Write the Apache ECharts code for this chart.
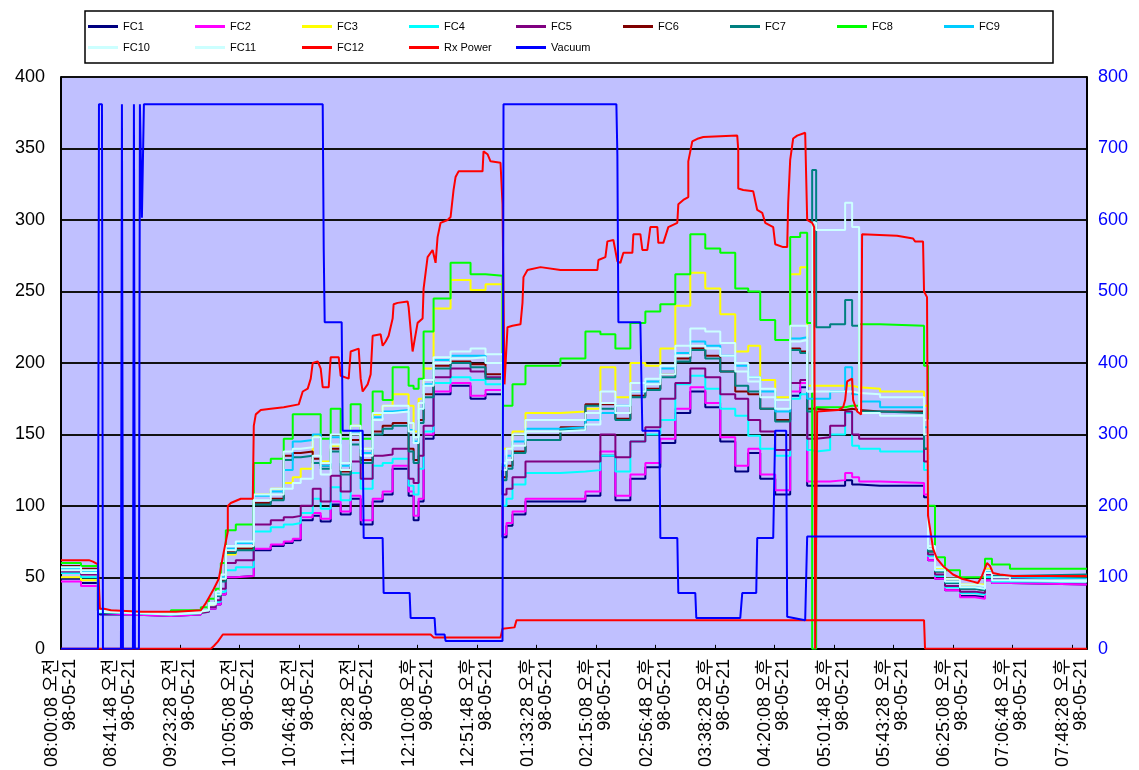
<!DOCTYPE html>
<html>
<head>
<meta charset="utf-8">
<script src="https://cdn.jsdelivr.net/npm/echarts@6/dist/echarts.min.js"></script>
<style>
  html, body { margin: 0; padding: 0; background: #ffffff; }
  #chart { width: 1139px; height: 770px; }
</style>
</head>
<body>
<div id="chart"></div>
<script>
// Category tick labels (one every 41 min 40 s)
const tickTimes = ['08:00:08 오전','08:41:48 오전','09:23:28 오전','10:05:08 오전','10:46:48 오전','11:28:28 오전',
  '12:10:08 오후','12:51:48 오후','01:33:28 오후','02:15:08 오후','02:56:48 오후','03:38:28 오후',
  '04:20:08 오후','05:01:48 오후','05:43:28 오후','06:25:08 오후','07:06:48 오후','07:48:28 오후'];
const tickDate = '98-05-21';
const tickStepMin = 2500 / 60;

// Elapsed minutes since 08:00:08 at which the FC1..FC11 readings change
const elapsedMin = [0,14,25.9,27.3,49,77,98,103.6,108.5,112,115.5,122.5,135.1,147,156.1,162.4,168,176.4,182,189,
  196,203,210,218.4,225.4,232.4,243.6,247.1,250.6,254.1,261.1,273,287,297.5,309.4,312.2,316.4,325.5,350,367.5,
  378,388.5,399,409.5,420,430.5,441,451.5,462,472.5,481.6,490,500.5,511,518,522.9,526.4,529.2,539,549.5,
  554.4,559.3,574,604.8,607.6,612.5,619.5,630,640.5,647.5,652.4,665,718.9];

const fc1 = [49,46,26,24,23,24,26,28,31,38,50,51,69,72,74,76,90,93,89,101,94,105,87,103,108,126,107,90,103,147,
  178,184,175,178,78,86,94,103,103,107,135,104,119,127,144,165,180,169,145,124,137,119,108,177,183,114,114,114,114,118,
  115,114,114,106,62,49,41,37,36,48,46,45,45];
const fc2 = [47,44,25,24,23,24,26,28,31,38,50,51,70,73,75,77,92,95,91,103,96,107,90,105,110,128,110,93,105,150,
  180,186,177,181,80,88,96,105,105,110,138,107,122,130,147,168,183,172,148,128,140,122,111,180,186,117,117,117,118,123,
  120,117,116,108,62,49,41,36,35,48,46,45,45];
const fc3 = [50,48,26,25,24,25,27,31,37,48,66,70,108,112,116,120,126,149,131,142,130,156,140,164,170,178,170,152,175,196,
  238,258,251,255,140,140,152,165,166,168,197,176,200,198,210,240,263,252,234,208,212,188,176,262,267,184,184,184,184,184,
  183,182,180,170,70,56,49,45,45,56,51,49,49];
const fc4 = [53,50,26,25,24,25,26,29,33,40,55,57,82,85,87,88,95,105,98,113,104,123,112,128,130,133,114,108,126,152,
  186,190,188,185,100,105,115,123,124,125,135,124,145,150,160,185,191,182,168,163,149,140,135,175,178,139,138,139,150,165,
  142,140,138,125,65,51,43,39,38,50,47,47,47];
const fc5 = [54,52,26,25,24,25,26,29,34,42,60,62,87,90,92,93,100,112,103,121,110,131,119,135,136,140,119,116,135,156,
  190,196,194,190,108,112,120,131,131,131,150,134,145,155,175,186,196,190,178,175,160,152,139,186,188,147,147,148,156,166,
  150,147,147,131,66,52,44,40,39,52,49,48,48];
const fc6 = [58,56,27,26,25,26,27,32,38,48,68,70,102,105,135,137,138,133,128,140,124,146,132,152,156,158,140,132,160,178,
  198,201,199,192,120,128,138,146,155,171,171,161,177,182,192,203,210,205,194,180,178,168,160,210,208,168,168,167,167,168,
  167,166,166,140,68,54,47,42,41,55,51,51,51];
const fc7 = [57,55,27,25,24,25,27,32,37,47,67,69,101,104,132,134,135,130,126,138,122,143,130,150,154,156,138,130,158,176,
  196,200,197,189,118,126,137,146,153,170,168,160,176,181,190,201,209,203,194,184,180,168,159,209,207,166,335,225,227,244,
  226,166,165,140,68,54,46,42,41,54,51,52,52];
const fc8 = [60,58,27,26,25,27,29,35,42,60,83,87,130,133,147,164,164,164,147,168,147,171,147,180,174,197,184,182,189,222,
  245,270,262,261,170,170,185,198,203,222,220,210,228,236,241,262,290,280,277,252,250,230,216,288,291,228,0,169,169,170,
  170,227,226,198,100,64,55,50,50,63,59,56,56];
const fc9 = [56,54,26,25,24,25,27,32,39,50,70,74,107,110,125,145,146,150,128,148,128,152,137,162,166,167,153,145,168,185,
  202,205,205,200,128,135,145,154,155,160,165,170,180,187,196,207,215,212,205,198,190,180,166,217,218,175,175,175,180,197,
  178,173,169,155,70,55,47,43,42,54,50,49,49];
const fc10 = [57,55,27,26,25,26,27,32,40,52,72,75,108,112,138,140,141,148,130,150,130,156,140,165,170,170,158,148,172,188,
  204,208,210,206,130,140,150,160,160,165,180,170,186,189,198,212,224,222,214,200,190,182,174,226,226,180,298,293,293,312,
  295,165,163,150,72,57,49,45,44,55,50,48,48];
const fc11 = [55,53,26,25,24,25,27,31,38,49,69,72,104,108,112,116,119,135,122,143,125,150,135,160,165,166,152,144,168,184,
  200,203,204,200,125,132,142,152,153,157,172,165,180,185,192,205,212,210,205,194,187,176,168,215,216,180,180,180,180,180,
  179,178,176,160,70,55,47,43,42,53,48,47,47];

// FC12, Rx Power and Vacuum as [elapsed minutes, value]
const fc12 = [[0,62],[19.6,62],[22.4,61],[25.9,59],[27.3,28],[30.1,28],[35,27],[56,26],[80.5,26],[98,27],[101.5,32],
  [104.3,37],[107.1,42],[110.6,49],[114.1,68],[116.9,82],[116.9,100],[119,102],[126,105],[134.4,105],[135.1,156],
  [136.5,164],[140,167],[147,168],[156.1,169],[166.6,171],[169.4,180],[172.9,182],[175,189],[176.4,200],[179.9,201],
  [182,196],[183.4,183],[187.6,183],[189,204],[194.6,204],[196,191],[201.6,189],[203,208],[208.6,210],[210,189],
  [211.4,180],[214.9,185],[217,192],[218.4,219],[224,220],[225.4,212],[227.5,215],[229.6,219],[232.4,231],[233.1,241],
  [235.9,242],[242.9,243],[243.6,239],[246.4,208],[247.1,207],[249.9,228],[253.4,231],[254.1,252],[256.9,274],
  [260.4,279],[262.5,270],[263.9,288],[266,298],[270.9,300],[273,302],[275.1,321],[276.5,330],[278.6,334],[295.4,334],
  [296.1,348],[298.9,346],[301,341],[308,340],[309.4,311],[310.1,247],[310.8,185],[312.2,185],[312.9,225],[316.4,226],
  [322,227],[323.4,242],[324.1,260],[326.9,265],[336,267],[350,265],[375.9,265],[376.6,272],[381.5,274],[382.9,285],
  [387.1,286],[389.9,271],[392,270],[394.1,277],[400.4,277],[401.1,290],[406,290],[407.4,279],[410.9,279],[413,295],
  [417.9,295],[418.6,284],[422.1,284],[425.6,295],[431.9,298],[432.6,311],[436.1,314],[439.6,316],[439.6,341],
  [442.4,355],[446.6,357],[450.1,358],[473.9,359],[474.6,349],[474.6,322],[478.1,321],[485.1,320],[487.9,307],
  [491.4,305],[493.5,298],[499.1,295],[500.5,283],[506.1,281],[508.9,281],[509.6,312],[511,342],[513.1,357],
  [515.9,359],[521.5,361],[522.9,300],[526.4,298],[527.8,295],[528.5,0],[529.2,0],[529.9,166],[544.6,167],[548.1,169],
  [549.5,174],[550.9,187],[554.4,189],[555.1,174],[557.9,166],[560.7,164],[561.4,290],[585.9,289],[586.6,288],
  [597.1,287],[598.5,285],[604.1,285],[604.8,250],[606.9,246],[607.6,93],[610.4,75],[611.1,70],[613.9,63],[618.1,58],
  [625.1,52],[631.4,49],[639.1,47],[642.6,46],[645.4,51],[648.9,60],[651,58],[653.1,53],[658,52],[667.1,51],[718.9,51]];
const rxPower = [[0,0],[105,0],[107.1,2],[109.9,5],[113.4,10],[259,10],[261.1,8],[308,8],[309.4,14],[317.8,15],
  [319.2,20],[604.8,20],[605.5,0],[718.9,0]];
const vacuum = [[0,0],[25.9,0],[26.6,762],[28.7,762],[29.4,0],[42,0],[42.7,762],[43.4,0],[50.4,0],[51.1,762],[51.8,0],
  [54.6,0],[55.3,762],[56,762],[56.7,603],[57.4,603],[58.1,762],[183.4,762],[184.1,560],[184.8,457],[196.7,457],
  [197.4,305],[211.4,305],[212.1,155],[225.4,155],[226.1,78],[244.3,78],[245,43],[261.8,43],[262.5,20],[268.8,20],
  [269.5,11],[309.4,11],[310.1,762],[389.2,762],[389.9,690],[390.6,457],[406,457],[407.4,305],[419.3,305],[420,155],
  [431.9,155],[432.6,78],[444.5,78],[445.2,43],[476,43],[477.4,78],[487.2,78],[487.9,155],[499.1,155],[500.5,305],
  [508.2,305],[508.9,45],[521.5,40],[522.9,157],[718.9,157]];

const seriesNames = ['FC1','FC2','FC3','FC4','FC5','FC6','FC7','FC8','FC9','FC10','FC11','FC12','Rx Power','Vacuum'];
const seriesColors = ['#000080','#ff00ff','#ffff00','#00ffff','#800080','#800000','#008080','#00ff00','#00ccff',
  '#ccffff','#ccffff','#ff0000','#ff0000','#0000ff'];
const bundle = [fc1, fc2, fc3, fc4, fc5, fc6, fc7, fc8, fc9, fc10, fc11];

const FONT = "'Liberation Sans', 'Noto Sans CJK KR', sans-serif";

const series = [];
bundle.forEach((vals, i) => {
  series.push({
    name: seriesNames[i], type: 'line', step: 'end', showSymbol: false,
    data: elapsedMin.map((t, k) => [t, vals[k]]),
    lineStyle: { width: 2, color: seriesColors[i] }, itemStyle: { color: seriesColors[i] }
  });
});
series.push({ name: 'FC12', type: 'line', showSymbol: false, data: fc12,
  lineStyle: { width: 2, color: seriesColors[11] }, itemStyle: { color: seriesColors[11] } });
series.push({ name: 'Rx Power', type: 'line', showSymbol: false, data: rxPower, z: 3,
  lineStyle: { width: 2, color: seriesColors[12] }, itemStyle: { color: seriesColors[12] } });
series.push({ name: 'Vacuum', type: 'line', showSymbol: false, data: vacuum, yAxisIndex: 1,
  lineStyle: { width: 2, color: seriesColors[13] }, itemStyle: { color: seriesColors[13] } });

const chart = echarts.init(document.getElementById('chart'), null, { renderer: 'canvas' });
chart.setOption({
  animation: false,
  backgroundColor: '#ffffff',
  legend: {
    data: seriesNames,
    left: 85, top: 11,
    width: 970,
    padding: [5, 2, 5, 3],
    itemGap: 0, itemWidth: 30, itemHeight: 3, icon: 'rect',
    backgroundColor: '#ffffff', borderColor: '#000000', borderWidth: 1.5,
    textStyle: { fontSize: 11, fontFamily: FONT, color: '#000', width: 72, lineHeight: 21 }
  },
  grid: {
    left: 61, right: 52, top: 77, bottom: 119, show: true,
    backgroundColor: '#c0c0ff', borderColor: '#000000', borderWidth: 1
  },
  xAxis: {
    type: 'value', min: 0, max: 719, interval: tickStepMin,
    axisLine: { show: true, lineStyle: { color: '#000', width: 2 } },
    axisTick: { show: true, inside: true, length: 4, lineStyle: { color: '#000' } },
    splitLine: { show: false },
    axisLabel: {
      rotate: 90, margin: 10, fontSize: 18, lineHeight: 18, fontFamily: FONT, color: '#000',
      showMaxLabel: false,
      formatter: v => {
        const idx = Math.round(v / tickStepMin);
        if (Math.abs(v - idx * tickStepMin) > 0.5 || idx >= tickTimes.length) return '';
        return tickTimes[idx] + '\n' + tickDate;
      }
    }
  },
  yAxis: [{
    type: 'value', min: 0, max: 400, interval: 50,
    axisLine: { show: true, lineStyle: { color: '#000', width: 2 } },
    axisTick: { show: false },
    splitLine: { show: true, lineStyle: { color: '#111', width: 2 } },
    axisLabel: { fontSize: 18, fontFamily: FONT, color: '#000', margin: 16 }
  }, {
    type: 'value', min: 0, max: 800, interval: 100, position: 'right',
    axisLine: { show: true, lineStyle: { color: '#000', width: 2 } },
    axisTick: { show: false },
    splitLine: { show: false },
    axisLabel: { fontSize: 18, fontFamily: FONT, color: '#0000ff', margin: 11 }
  }],
  series: series
});
</script>
</body>
</html>
